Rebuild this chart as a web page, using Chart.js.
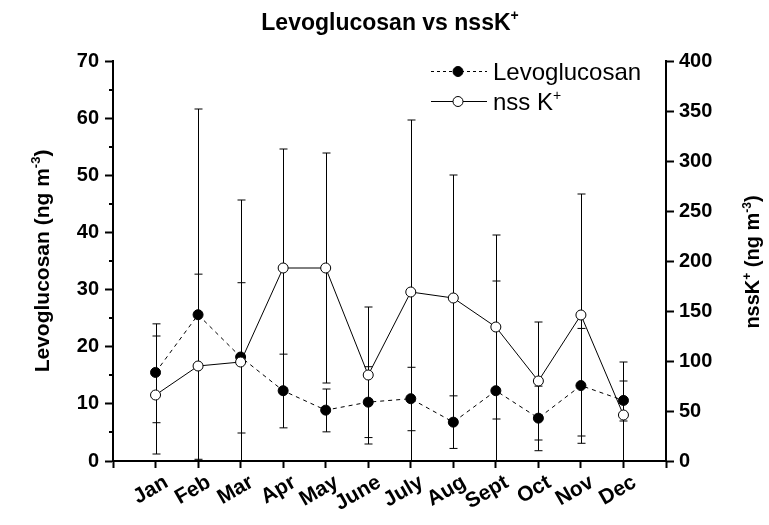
<!DOCTYPE html>
<html><head><meta charset="utf-8">
<script src="https://cdn.jsdelivr.net/npm/chart.js@4"></script>
<style>html,body{margin:0;padding:0;background:#fff;}canvas{display:block}</style>
</head><body>
<canvas id="c" width="769" height="525"></canvas>
<script>
// ---- data ----
const months = ['Jan','Feb','Mar','Apr','May','June','July','Aug','Sept','Oct','Nov','Dec'];
const levo     = [15.5, 25.6, 18.2, 12.3, 8.9, 10.3, 10.9, 6.8, 12.3, 7.5, 13.2, 10.6];
const levoLow  = [6.7, 0.3, 4.9, 5.8, 5.1, 4.1, 5.3, 2.2, -7.0, 1.8, 3.1, 7.0];
const levoHigh = [24.0, 32.7, 31.2, 18.7, 12.6, 16.5, 16.4, 11.4, 31.5, 13.1, 23.2, 14.0];
const nssK     = [66, 95, 99, 193, 193, 86, 169, 163, 134, 80, 146, 46];
const nssKLow  = [7, -162, -63, 73, 78, 17, -3, 40, 42, 21, 25, -7];
const nssKHigh = [125, 352, 261, 312, 308, 154, 341, 286, 226, 139, 267, 99];
const leftRange = [0, 70];
const rightRange = [0, 400];
const FONT = 'Liberation Sans, Arial, sans-serif';

const errorBars = {
  id: 'errorBars',
  beforeDatasetsDraw(chart) {
    const ctx = chart.ctx, xs = chart.scales.x;
    ctx.save();
    ctx.strokeStyle = '#000';
    ctx.lineWidth = 1;
    chart.data.datasets.forEach(ds => {
      const ys = chart.scales[ds.yAxisID];
      ds.data.forEach((p, i) => {
        const x = Math.round(xs.getPixelForValue(p.x)) + 0.5;
        const hi = ds.errHigh[i], lo = ds.errLow[i];
        const yHi = ys.getPixelForValue(Math.min(hi, ys.max));
        const yLo = ys.getPixelForValue(Math.max(lo, ys.min));
        ctx.beginPath();
        ctx.moveTo(x, yHi); ctx.lineTo(x, yLo);
        if (hi <= ys.max) { ctx.moveTo(x - 4, yHi); ctx.lineTo(x + 4, yHi); }
        if (lo >= ys.min) { ctx.moveTo(x - 4, yLo); ctx.lineTo(x + 4, yLo); }
        ctx.stroke();
      });
    });
    ctx.restore();
  }
};

function drawSegs(ctx, segs, x, y, size, weight, align) {
  const widths = segs.map(s => {
    ctx.font = `${weight} ${s[1] ? Math.round(size * 0.6) : size}px ${FONT}`;
    return ctx.measureText(s[0]).width;
  });
  const total = widths.reduce((a, b) => a + b, 0);
  let cx = align === 'center' ? x - total / 2 : x;
  segs.forEach((s, i) => {
    ctx.font = `${weight} ${s[1] ? Math.round(size * 0.6) : size}px ${FONT}`;
    ctx.fillText(s[0], cx, s[1] ? y - size * 0.42 : y);
    cx += widths[i];
  });
}

const minorTicks = {
  id: 'minorTicks',
  afterDraw(chart) {
    const ctx = chart.ctx;
    ctx.save();
    ctx.strokeStyle = '#000';
    ctx.lineWidth = 2;
    const y = chart.scales.y, y2 = chart.scales.y2;
    const L = chart.chartArea.left, R = chart.chartArea.right;
    y.ticks.forEach(t => {
      if (t.value % 10 !== 0) {
        const py = Math.round(y.getPixelForValue(t.value));
        ctx.beginPath(); ctx.moveTo(L - 4, py); ctx.lineTo(L, py); ctx.stroke();
      }
    });
    y2.ticks.forEach(t => {
      if (t.value % 50 !== 0) {
        const py = Math.round(y2.getPixelForValue(t.value));
        ctx.beginPath(); ctx.moveTo(R, py); ctx.lineTo(R + 4, py); ctx.stroke();
      }
    });
    ctx.restore();
  }
};

const texts = {
  id: 'texts',
  afterDraw(chart) {
    const ctx = chart.ctx;
    ctx.save();
    ctx.fillStyle = '#000';
    ctx.textBaseline = 'alphabetic';
    // title
    drawSegs(ctx, [['Levoglucosan vs nssK', false], ['+', true]], 390, 30, 23, 'bold', 'center');
    // left axis title
    ctx.save();
    ctx.translate(49, 261); ctx.rotate(-Math.PI / 2);
    drawSegs(ctx, [['Levoglucosan (ng m', false], ['-3', true], [')', false]], 0, 0, 21, 'bold', 'center');
    ctx.restore();
    // right axis title
    ctx.save();
    ctx.translate(759, 262); ctx.rotate(-Math.PI / 2);
    drawSegs(ctx, [['nssK', false], ['+', true], [' (ng m', false], ['-3', true], [')', false]], 0, 0, 20, 'bold', 'center');
    ctx.restore();
    // legend
    ctx.strokeStyle = '#000'; ctx.lineWidth = 1;
    ctx.beginPath(); ctx.setLineDash([3, 3]);
    ctx.moveTo(431, 71.5); ctx.lineTo(487, 71.5); ctx.stroke();
    ctx.setLineDash([]);
    ctx.beginPath(); ctx.moveTo(431, 101.5); ctx.lineTo(487, 101.5); ctx.stroke();
    ctx.beginPath(); ctx.arc(458, 71.5, 5, 0, Math.PI * 2); ctx.fillStyle = '#000'; ctx.fill(); ctx.stroke();
    ctx.beginPath(); ctx.arc(458, 101.5, 5, 0, Math.PI * 2); ctx.fillStyle = '#fff'; ctx.fill(); ctx.stroke();
    ctx.fillStyle = '#000';
    drawSegs(ctx, [['Levoglucosan', false]], 493, 80, 24, 'normal', 'left');
    drawSegs(ctx, [['nss K', false], ['+', true]], 493, 110, 24, 'normal', 'left');
    ctx.restore();
  }
};

const tickFont = { family: FONT, weight: 'bold', size: 20 };

new Chart(document.getElementById('c'), {
  type: 'line',
  data: {
    datasets: [
      {
        label: 'Levoglucosan', yAxisID: 'y', order: 2,
        data: levo.map((v, i) => ({ x: i + 1, y: v })),
        errLow: levoLow, errHigh: levoHigh,
        borderColor: '#000', borderWidth: 1, borderDash: [4, 4],
        pointRadius: 5, pointBackgroundColor: '#000', pointBorderColor: '#000', pointBorderWidth: 1,
        tension: 0, fill: false
      },
      {
        label: 'nss K+', yAxisID: 'y2', order: 1,
        data: nssK.map((v, i) => ({ x: i + 1, y: v })),
        errLow: nssKLow, errHigh: nssKHigh,
        borderColor: '#000', borderWidth: 1,
        pointRadius: 5, pointBackgroundColor: '#fff', pointBorderColor: '#000', pointBorderWidth: 1,
        tension: 0, fill: false
      }
    ]
  },
  options: {
    responsive: false, animation: false, devicePixelRatio: 1,
    layout: { padding: { top: 61, left: 0, right: 0, bottom: 0 } },
    plugins: { legend: { display: false }, title: { display: false }, tooltip: { enabled: false } },
    scales: {
      x: {
        type: 'linear', min: 0, max: months.length + 1, position: 'bottom',
        afterFit(s) { s.height = 64; },
        ticks: {
          stepSize: 1, autoSkip: false, maxRotation: 30, minRotation: 30, color: '#000',
          font: { family: FONT, weight: 'bold', size: 21 }, padding: 2, labelOffset: 11,
          callback: v => months[v - 1] || ''
        },
        grid: { drawOnChartArea: false, tickLength: 7, tickWidth: 2, tickColor: '#000' },
        border: { display: true, color: '#000', width: 2 }
      },
      y: {
        position: 'left', min: leftRange[0], max: leftRange[1],
        afterFit(s) { s.width = 113; },
        ticks: { stepSize: 5, color: '#000', font: tickFont, padding: 6, callback: v => (v % 10 === 0 ? v : '') },
        grid: { drawOnChartArea: false, tickLength: 8, tickWidth: 2, tickColor: c => (c.tick && c.tick.value % 10 === 0 ? '#000' : 'rgba(0,0,0,0)') },
        border: { display: true, color: '#000', width: 2 }
      },
      y2: {
        position: 'right', min: rightRange[0], max: rightRange[1],
        afterFit(s) { s.width = 103; },
        ticks: { stepSize: 25, color: '#000', font: tickFont, padding: 5, callback: v => (v % 50 === 0 ? v : '') },
        grid: { drawOnChartArea: false, tickLength: 8, tickWidth: 2, tickColor: c => (c.tick && c.tick.value % 50 === 0 ? '#000' : 'rgba(0,0,0,0)') },
        border: { display: true, color: '#000', width: 2 }
      }
    }
  },
  plugins: [errorBars, minorTicks, texts]
});
</script>
</body></html>
